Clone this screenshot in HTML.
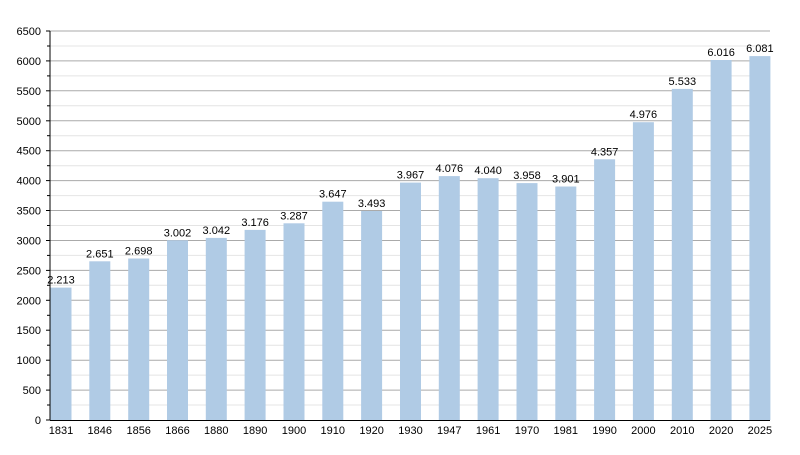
<!DOCTYPE html><html><head><style>body{margin:0;background:#fff}</style></head><body>
<svg id="s" width="800" height="450" xmlns="http://www.w3.org/2000/svg" font-family="Liberation Sans, sans-serif" font-size="11"></svg>
<script>
const s=document.getElementById('s');
const yrs=[1831,1846,1856,1866,1880,1890,1900,1910,1920,1930,1947,1961,1970,1981,1990,2000,2010,2020,2025];
const v=[2213,2651,2698,3002,3042,3176,3287,3647,3493,3967,4076,4040,3958,3901,4357,4976,5533,6016,6081];
const y0=420,k=389/6500;let h='';
for(let t=0;t<=6500;t+=250){const y=(y0-t*k).toFixed(1);const maj=t%500==0;
if(t>0)h+=`<line x1="50" x2="770" y1="${y}" y2="${y}" stroke="${maj?'#aaa':'#e4e4e4'}" stroke-width="1"/>`;
h+=`<line x1="${maj?46:47}" x2="50" y1="${y}" y2="${y}" stroke="#000"/>`;
if(maj)h+=`<text x="41" y="${+y+4}" text-anchor="end">${t}</text>`;}
yrs.forEach((yr,i)=>{const c=61+i*38.83,top=y0-v[i]*k;
h+=`<rect x="${(c-10.5).toFixed(1)}" y="${top.toFixed(1)}" width="21" height="${(v[i]*k).toFixed(1)}" fill="#b0cbe5"/>`;
h+=`<text x="${c.toFixed(1)}" y="${(top-4).toFixed(1)}" text-anchor="middle">${(v[i]/1000).toFixed(3)}</text>`;
h+=`<text x="${c.toFixed(1)}" y="434" text-anchor="middle">${yr}</text>`;});
h+=`<line x1="50" x2="50" y1="31" y2="420.5" stroke="#000"/><line x1="50" x2="770" y1="420.5" y2="420.5" stroke="#000"/>`;
s.innerHTML=h;
</script></body></html>
